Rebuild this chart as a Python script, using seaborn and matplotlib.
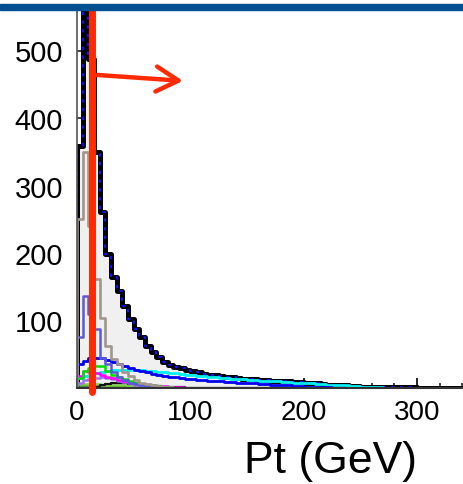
import numpy as np
import pandas as pd
import matplotlib
matplotlib.use("Agg")
import matplotlib.pyplot as plt
import seaborn as sns
from matplotlib.patches import Rectangle
from matplotlib.ticker import MultipleLocator

sns.set_style("white")
plt.rcParams["font.family"] = ["Liberation Sans", "DejaVu Sans"]
plt.rcParams["text.color"] = "black"
plt.rcParams["xtick.color"] = "black"
plt.rcParams["ytick.color"] = "black"

# ---- data (5 GeV bins starting at 0 GeV) ----
bin_width = 5
x_max = 350
data_counts = [358, 900, 487, 350, 261, 199, 164, 144, 121, 102, 87, 76, 62, 53, 46,
               39, 34, 31, 29, 27, 25, 23, 21, 20, 19, 18, 17, 16, 15, 14, 13, 13,
               12, 12, 11, 11, 10, 10, 9, 9, 8, 7, 7, 6, 5, 5, 4, 4, 3, 3, 2, 2,
               2, 2, 1, 1, 1, 1, 1, 1]
gray_counts = [250, 350, 240, 161, 103, 62, 43, 36, 24, 18, 12, 8, 6, 4, 3, 2, 1]
slate_counts = [75, 136, 110, 87, 45, 35, 24, 17, 12, 8, 6, 4, 3, 2, 1]
blue_counts = [36, 40, 44, 45, 44, 42, 38, 35, 32, 29, 26, 25, 23, 21, 19, 18, 17, 16,
               15, 14, 13, 12, 12, 11, 10, 10, 9, 9, 8, 8, 7, 7, 6, 6, 5, 5, 4, 4,
               3, 3, 2, 2, 2, 1, 1]
cyan_counts = [15, 18, 20, 22, 24, 25, 26, 27, 27, 27, 26, 26, 25, 25, 24, 23, 22,
               22, 21, 20, 19, 18, 18, 17, 16, 15, 15, 14, 13, 13, 12, 12, 11, 11,
               10, 10, 9, 9, 8, 8, 7, 7, 6, 6, 5, 5, 4, 4, 3, 3, 2, 2, 1, 1]
green_counts = [15, 25, 30, 33, 32, 25, 20, 16, 13, 10, 8, 6, 5, 4, 3, 2, 1]
magenta_counts = [18, 25, 24, 22, 20, 17, 15, 12, 10, 8, 7, 6, 5, 4, 3, 3, 2, 2, 1]
purple_counts = [8, 12, 14, 15, 16, 15, 13, 11, 9, 7, 5, 4, 3, 2, 1]
dark_counts = [0, 0, 0, 2, 4, 6, 7, 7, 7, 6, 6, 5, 4, 3, 3, 2, 2, 1, 1]
darkgreen_counts = [4, 4, 4, 4, 4, 4, 3, 3, 3, 2, 2, 1, 1]
lightgreen_counts = [6, 6, 6, 6, 5, 5, 5, 4, 4, 3, 3, 2, 1]

cut_value = 13.2          # GeV, red cut line
arrow_start = (15.9, 464)
arrow_end = (93.5, 455)
y_ticks = [100, 200, 300, 400, 500]
x_ticks = [0, 100, 200, 300]
x_label = "Pt (GeV)"

# bin edges with an empty leading bin so the left edge rises from zero
edges = np.arange(-bin_width, x_max + bin_width, bin_width)
centers = edges[:-1] + bin_width / 2
n_bins = len(centers)
bin_range = (float(edges[0]), float(edges[-1]))


def frame(vals):
    w = np.zeros(n_bins)
    w[1:1 + len(vals)] = vals
    return pd.DataFrame({"pt": centers, "w": w})


fig = plt.figure(figsize=(4.63, 4.85), dpi=100)
ax = fig.add_axes([77 / 463, (485 - 389) / 485, 1 - 77 / 463, (389 - 12) / 485])

data_df = frame(data_counts)
common = dict(x="pt", weights="w", binwidth=bin_width, binrange=bin_range,
              element="step", ax=ax)
# light fill under the total
sns.histplot(data=data_df, fill=True, color="#f0f0f0", alpha=1, linewidth=0, **common)
# thick black data line with blue dotted overlay
sns.histplot(data=data_df, fill=False, color="black", linewidth=3.6, **common)
sns.histplot(data=data_df, fill=False, color="#1010ff", linewidth=1.5,
             linestyle=(0, (1.6, 2.6)), **common)

series = [
    (darkgreen_counts, "#1f8a1f", 1.8),
    (lightgreen_counts, "#7ed04a", 1.8),
    (dark_counts, "#111111", 1.6),
    (cyan_counts, "#00f0f0", 2.0),
    (purple_counts, "#a070f0", 1.8),
    (magenta_counts, "#ff00ff", 1.8),
    (green_counts, "#00e000", 1.8),
    (blue_counts, "#0000ee", 2.0),
    (slate_counts, "#5a5ad8", 1.8),
    (gray_counts, "#a0968c", 1.9),
]
for vals, col, lw in series:
    sns.histplot(data=frame(vals), fill=False, color=col, linewidth=lw, **common)

red = "#ff2a00"
ax.axvline(cut_value, ymin=-0.01, ymax=1, color=red, linewidth=5, clip_on=False, zorder=10)
ax.annotate("", xy=arrow_end, xytext=arrow_start,
            arrowprops=dict(arrowstyle="->,head_length=0.8,head_width=0.45",
                            color=red, lw=3.2, shrinkA=0, shrinkB=0,
                            mutation_scale=20), zorder=11)

ax.set_xlim(0, (463 - 77) / 1.1333)
ax.set_ylim(0, (389 - 12) / 0.675)
ax.set_xticks(x_ticks)
ax.set_yticks(y_ticks)
ax.xaxis.set_minor_locator(MultipleLocator(20))
ax.tick_params(axis="x", which="major", direction="in", length=7, width=1.4,
               color="#222222", labelcolor="black", labelsize=20, pad=8,
               bottom=True, top=False)
ax.tick_params(axis="x", which="minor", direction="in", length=3.5, width=1.2,
               color="#222222", bottom=True, top=False)
ax.tick_params(axis="y", which="major", direction="in", length=5, width=1.2,
               color="#222222", labelcolor="black", labelsize=21, pad=10,
               left=True, right=False)
ax.set_xlabel("")
ax.set_ylabel("")
for s in ["top", "right"]:
    ax.spines[s].set_visible(False)
ax.spines["left"].set_color("#555555")
ax.spines["bottom"].set_color("#333333")
ax.spines["left"].set_linewidth(1.2)
ax.spines["bottom"].set_linewidth(1.5)

fig.text(330 / 463, 1 - 473 / 485, x_label, fontsize=32, color="black",
         ha="center", va="baseline")

# slide header bar
fig.patches.append(Rectangle((0, 1 - 11 / 485), 1, 6 / 485, transform=fig.transFigure,
                             color="#034f92", zorder=20))

fig.savefig("out.png", dpi=100)
